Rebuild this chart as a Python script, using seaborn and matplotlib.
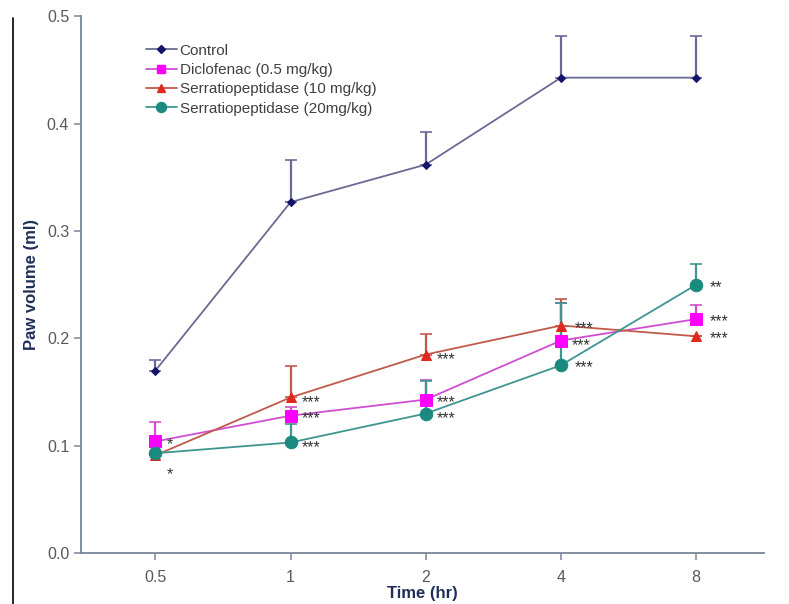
import numpy as np
import pandas as pd
import matplotlib
matplotlib.use("Agg")
import matplotlib.pyplot as plt
from matplotlib.lines import Line2D
import seaborn as sns

# Data
times = ["0.5", "1", "2", "4", "8"]
groups = ["Control", "Diclofenac (0.5 mg/kg)", "Serratiopeptidase (10 mg/kg)", "Serratiopeptidase (20mg/kg)"]

control = [0.170, 0.327, 0.362, 0.443, 0.443]
control_err = [0.010, 0.039, 0.030, 0.039, 0.039]
diclofenac = [0.104, 0.128, 0.143, 0.198, 0.218]
diclofenac_err = [0.018, 0.008, 0.018, 0.035, 0.013]
serr10 = [0.091, 0.145, 0.185, 0.212, 0.202]
serr10_err = [0.002, 0.029, 0.019, 0.025, 0.0]
serr20 = [0.093, 0.103, 0.130, 0.175, 0.250]
serr20_err = [0.0, 0.017, 0.030, 0.058, 0.019]

stars_dic = ["*", "***", "***", "***", "***"]
stars_s10 = ["*", "***", "***", "***", "***"]
stars_s20 = ["", "***", "***", "***", "**"]

colors = ["#14146b", "#ff00ff", "#e0281e", "#1a8a80"]
line_colors = ["#6a6a96", "#d04fd0", "#c05a4a", "#3f9690"]
markers = ["D", "s", "^", "o"]
msizes = [4.5, 8, 7.5, 9]

values = [control, diclofenac, serr10, serr20]
errors = [control_err, diclofenac_err, serr10_err, serr20_err]

df = pd.concat([
    pd.DataFrame({"time": times, "pos": np.arange(len(times)), "volume": v, "err": e, "group": g})
    for g, v, e in zip(groups, values, errors)
], ignore_index=True)

sns.set_theme(style="white")
plt.rcParams["font.family"] = ["Liberation Sans", "DejaVu Sans"]

fig = plt.figure(figsize=(7.89, 6.04), dpi=100)
ax = fig.add_axes([0.1027, 0.0844, 0.8653, 0.8883])

for g, c, lc, m, ms in zip(groups, colors, line_colors, markers, msizes):
    sub = df[df["group"] == g]
    # upper-only error bars (Excel style)
    ax.errorbar(sub["pos"], sub["volume"], yerr=[np.zeros(len(sub)), sub["err"]],
                fmt="none", ecolor=lc, elinewidth=1.6, capsize=4, capthick=1.2, zorder=2)
    sns.lineplot(data=sub, x="pos", y="volume", ax=ax, color=lc, linewidth=1.3,
                 marker=m, markersize=ms, markerfacecolor=c, markeredgecolor=c,
                 legend=False, zorder=3)

# significance stars (offsets in points from each marker)
star_sets = [(diclofenac, stars_dic, [(8, -2), (8, -2), (8, -2), (8, -4), (10, -2)]),
             (serr10, stars_s10, [(8, -14), (8, -4), (8, -4), (10, -2), (10, -2)]),
             (serr20, stars_s20, [(0, 0), (8, -4), (8, -4), (10, -2), (10, -2)])]
for vals, st, offs in star_sets:
    for i, (v, s, o) in enumerate(zip(vals, st, offs)):
        if s:
            ax.annotate(s, (i, v), xytext=o, textcoords="offset points",
                        ha="left", va="center", fontsize=11.5, color="#333333")

ax.set_xlim(-0.55, 4.5)
ax.set_ylim(0, 0.5)
ax.set_xticks(np.arange(len(times)))
ax.set_xticklabels(times)
ax.set_yticks(np.arange(0, 0.51, 0.1))
ax.set_yticklabels([f"{t:.1f}" for t in np.arange(0, 0.51, 0.1)])

ax.set_xlabel("Time (hr)", fontsize=12, fontweight="bold", color="#1f2f5a", labelpad=1)
ax.set_ylabel("Paw volume (ml)", fontsize=12, fontweight="bold", color="#1f2f5a", labelpad=6)

for side in ["top", "right"]:
    ax.spines[side].set_visible(False)
for side in ["left", "bottom"]:
    ax.spines[side].set_color("#7a8699")
    ax.spines[side].set_linewidth(1.3)
ax.tick_params(axis="both", which="both", direction="out", length=5, width=1.1,
               color="#7a8699", labelcolor="#595959", labelsize=11.5, left=True, bottom=True)
ax.tick_params(axis="x", pad=7)

handles = [Line2D([0], [0], color=lc, marker=m, markersize=ms * 0.8, markerfacecolor=c,
                  markeredgecolor=c, linewidth=1.3)
           for c, lc, m, ms in zip(colors, line_colors, markers, msizes)]
leg = ax.legend(handles, groups, loc="upper left", bbox_to_anchor=(0.075, 0.975), frameon=False,
                fontsize=11, handlelength=2.0, handletextpad=0.2, labelspacing=0.35)
for t in leg.get_texts():
    t.set_color("#404040")

# left border line of the original picture
fig.add_artist(Line2D([0.016, 0.016], [0, 0.97], transform=fig.transFigure, color="black", linewidth=1.2))

fig.savefig("out.png", dpi=100, facecolor="white")
